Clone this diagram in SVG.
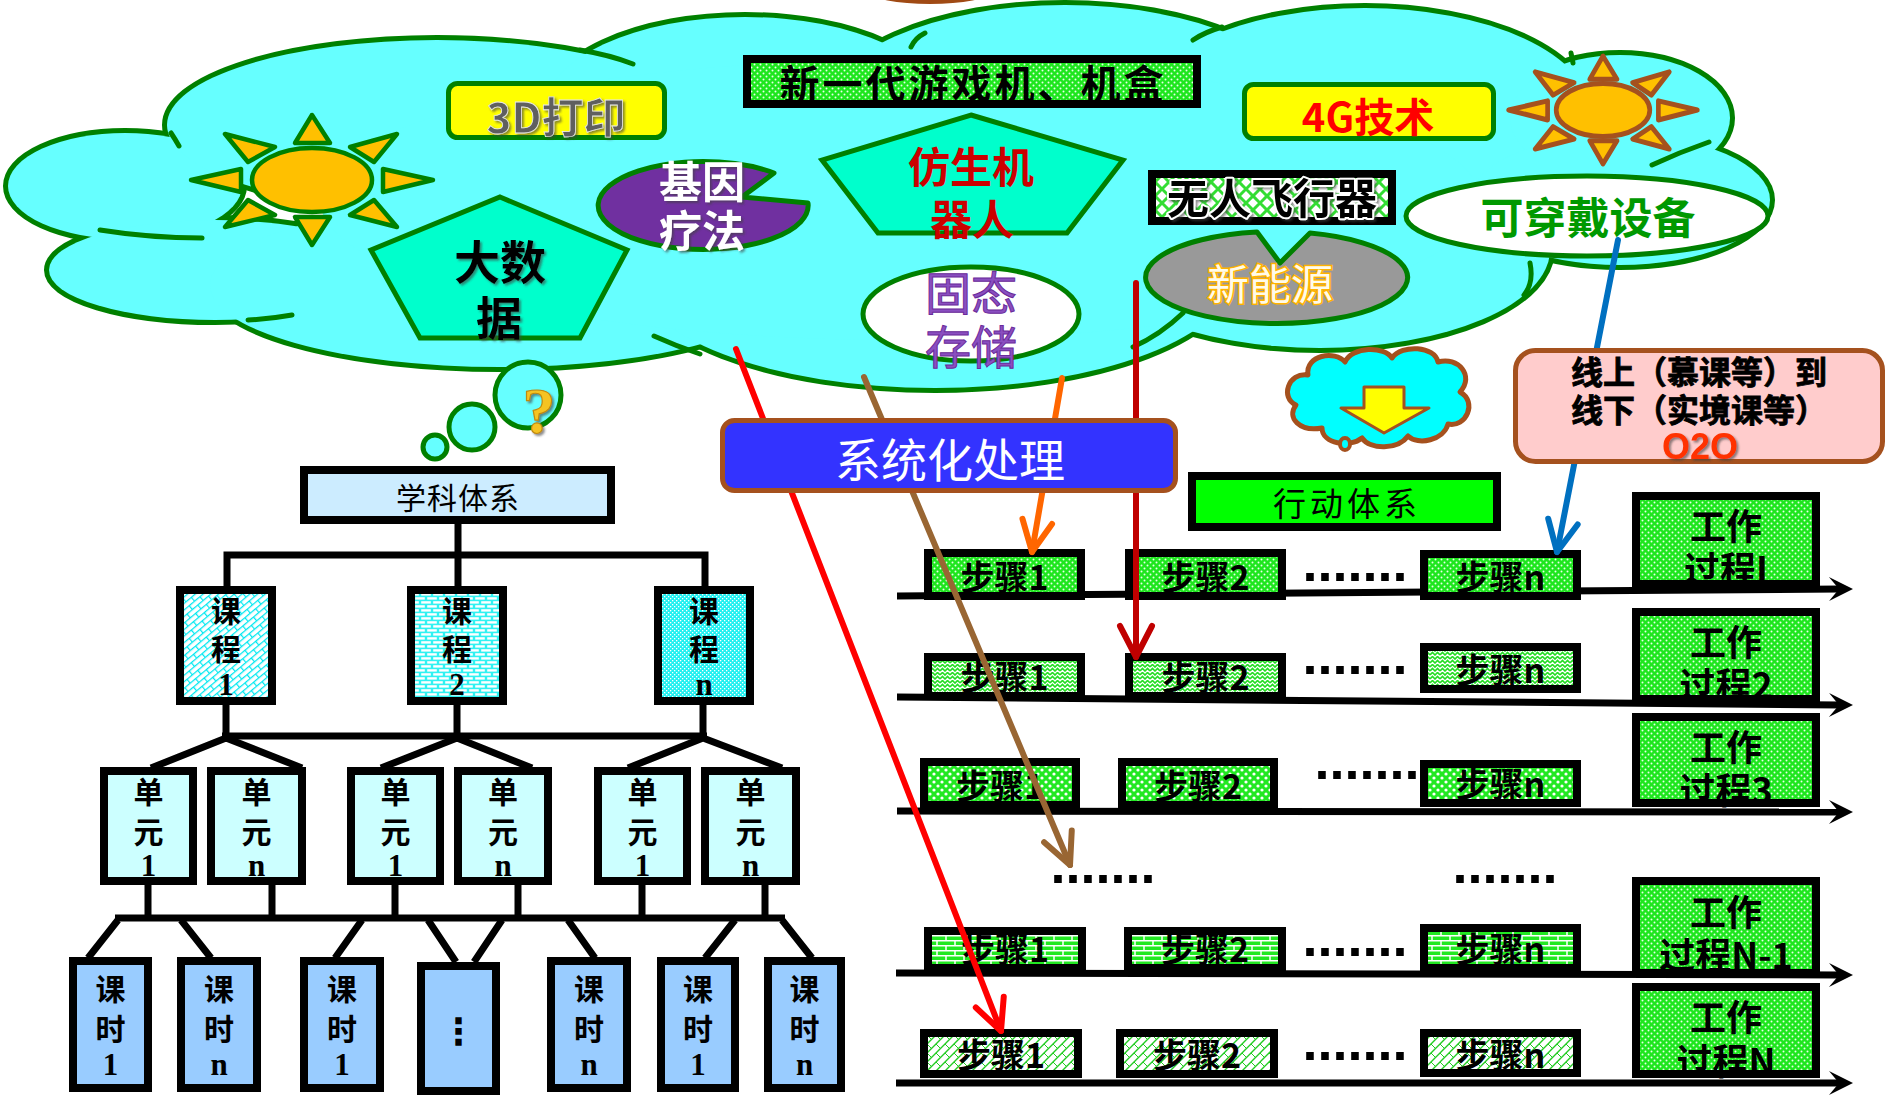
<svg xmlns="http://www.w3.org/2000/svg" width="1887" height="1096" viewBox="0 0 1887 1096">
<style>
  text { font-family: "Noto Sans CJK SC", "Noto Sans", sans-serif; }
  .b { font-weight: bold; }
  .c { text-anchor: middle; }
  .box { stroke: #000; stroke-width: 8; }
  .gline { fill: none; stroke: #008000; stroke-width: 5; stroke-linecap: round; }
  .pent { fill: #00FFCC; stroke: #008000; stroke-width: 5; }
  .tl { fill: none; stroke: #000; stroke-width: 7; }
  .step { font-size: 34px; font-weight: bold; text-anchor: middle; }
  .work { font-size: 36px; font-weight: bold; text-anchor: middle; }
  .tree { font-size: 30px; font-weight: bold; text-anchor: middle; }
  .dig { font-family: "Liberation Serif", serif; font-size: 31px; font-weight: bold; }
  .dots { font-family: "Liberation Sans", sans-serif; font-size: 54px; font-weight: bold; text-anchor: middle; }
  .conn { fill: none; stroke-width: 6; stroke-linecap: round; }
  .bubble { fill: #66FFFF; stroke: #008000; stroke-width: 5; }
</style>
<defs>
  <filter id="sh" x="-10%" y="-15%" width="130%" height="150%">
    <feDropShadow dx="2" dy="2" stdDeviation="1.3" flood-color="#404040" flood-opacity="0.6"/>
  </filter>
  <!-- fill patterns -->
  <pattern id="pGreenFine" width="6" height="6" patternUnits="userSpaceOnUse">
    <rect width="6" height="6" fill="#1EE61E"/>
    <circle cx="1.5" cy="1.5" r="1" fill="#E8FFE8"/>
    <circle cx="4.5" cy="4.5" r="1" fill="#E8FFE8"/>
  </pattern>
  <pattern id="pZig" width="10" height="8" patternUnits="userSpaceOnUse">
    <rect width="10" height="8" fill="#fff"/>
    <path d="M0,3 L2.5,0.5 L5,3 L7.5,0.5 L10,3 M0,7 L2.5,4.5 L5,7 L7.5,4.5 L10,7" fill="none" stroke="#22DD22" stroke-width="1.6"/>
  </pattern>
  <pattern id="pSpots" width="8" height="8" patternUnits="userSpaceOnUse">
    <rect width="8" height="8" fill="#22E822"/>
    <circle cx="2" cy="2" r="1.6" fill="#fff"/>
    <circle cx="6" cy="6" r="1.6" fill="#fff"/>
  </pattern>
  <pattern id="pBrick" width="18" height="10" patternUnits="userSpaceOnUse">
    <rect width="18" height="10" fill="#22E822"/>
    <path d="M0,0.75 H18 M0,5.75 H18 M1,0.75 V5.75 M10,5.75 V10" stroke="#fff" stroke-width="1.5"/>
  </pattern>
  <pattern id="pHatch" width="9" height="9" patternUnits="userSpaceOnUse">
    <rect width="9" height="9" fill="#fff"/>
    <path d="M0,9 L9,0 M-2,2 L2,-2 M7,11 L11,7" stroke="#22CC22" stroke-width="1.4"/>
    <path d="M0,0 L4.5,4.5" stroke="#22CC22" stroke-width="1"/>
  </pattern>
  <pattern id="pWeave" width="14" height="14" patternUnits="userSpaceOnUse">
    <rect width="14" height="14" fill="#fff"/>
    <path d="M0,7 L7,0 L14,7 L7,14 Z" fill="none" stroke="#33DD33" stroke-width="3"/>
  </pattern>
  <pattern id="pCyanDiag" width="14" height="10" patternUnits="userSpaceOnUse" patternTransform="rotate(-40)">
    <rect width="14" height="10" fill="#fff"/>
    <path d="M0,0.6 H14 M0,5.6 H14 M0.6,0.6 V5.6 M7.6,5.6 V10" stroke="#00E8F0" stroke-width="1.2"/>
  </pattern>
  <pattern id="pCyanBrick" width="12" height="8" patternUnits="userSpaceOnUse">
    <rect width="12" height="8" fill="#30F2F2"/>
    <rect x="1.2" y="1.2" width="9.6" height="2.4" fill="#fff"/>
    <rect x="7.2" y="5.2" width="9.6" height="2.4" fill="#fff"/>
    <rect x="-4.8" y="5.2" width="9.6" height="2.4" fill="#fff"/>
  </pattern>
  <pattern id="pCyanDots" width="4" height="4" patternUnits="userSpaceOnUse">
    <rect width="4" height="4" fill="#20F0F0"/>
    <rect x="0" y="0" width="1.3" height="1.3" fill="#fff"/>
    <rect x="2" y="2" width="1.3" height="1.3" fill="#fff"/>
  </pattern>
  <!-- cloud lobes -->
  <g id="lobes">
    <ellipse cx="125" cy="186" rx="117" ry="53"/>
    <ellipse cx="437" cy="125" rx="270" ry="85"/>
    <ellipse cx="215" cy="270" rx="166" ry="50"/>
    <ellipse cx="500" cy="285" rx="290" ry="82"/>
    <ellipse cx="745" cy="110" rx="200" ry="93"/>
    <ellipse cx="1065" cy="112" rx="240" ry="107"/>
    <ellipse cx="1365" cy="112" rx="225" ry="104"/>
    <ellipse cx="1620" cy="118" rx="110" ry="63"/>
    <ellipse cx="1620" cy="200" rx="150" ry="65"/>
    <ellipse cx="1320" cy="250" rx="230" ry="98"/>
    <ellipse cx="935" cy="272" rx="300" ry="116"/>
  </g>
  <!-- sun: body and eight rays around the origin -->
  <g id="sun">
    <polygon points="0,-65 -17,-37 18,-37"/>
    <polygon points="0,65 -17,37 18,37"/>
    <polygon points="-121,0 -71,-11 -71,12"/>
    <polygon points="121,0 71,-11 71,12"/>
    <polygon points="-87,-46 -37,-33 -64,-18"/>
    <polygon points="85,-46 38,-33 62,-18"/>
    <polygon points="-87,47 -64,20 -37,35"/>
    <polygon points="85,47 62,20 38,35"/>
    <ellipse rx="60" ry="32"/>
  </g>
  <marker id="mTime" markerUnits="userSpaceOnUse" viewBox="-30 -15 34 30" markerWidth="34" markerHeight="30" refX="-13" refY="0" orient="auto" overflow="visible">
    <path d="M-24,-12 L0,0 L-24,12 L-14,0 Z" fill="#000"/>
  </marker>
  <marker id="aRed" markerUnits="userSpaceOnUse" viewBox="-40 -20 44 40" markerWidth="44" markerHeight="40" refX="0" refY="0" orient="auto" overflow="visible">
    <path d="M-31,-15 L0,0 L-31,15" fill="none" stroke="#FF0000" stroke-width="6" stroke-linecap="round" stroke-linejoin="round"/>
  </marker>
  <marker id="aBrown" markerUnits="userSpaceOnUse" viewBox="-40 -20 44 40" markerWidth="44" markerHeight="40" refX="0" refY="0" orient="auto" overflow="visible">
    <path d="M-31,-15 L0,0 L-31,15" fill="none" stroke="#996633" stroke-width="6" stroke-linecap="round" stroke-linejoin="round"/>
  </marker>
  <marker id="aOrange" markerUnits="userSpaceOnUse" viewBox="-40 -20 44 40" markerWidth="44" markerHeight="40" refX="0" refY="0" orient="auto" overflow="visible">
    <path d="M-31,-15 L0,0 L-31,15" fill="none" stroke="#FF6600" stroke-width="6" stroke-linecap="round" stroke-linejoin="round"/>
  </marker>
  <marker id="aDark" markerUnits="userSpaceOnUse" viewBox="-40 -20 44 40" markerWidth="44" markerHeight="40" refX="0" refY="0" orient="auto" overflow="visible">
    <path d="M-31,-16 L0,0 L-31,16" fill="none" stroke="#C00000" stroke-width="6" stroke-linecap="round" stroke-linejoin="round"/>
  </marker>
  <marker id="aBlue" markerUnits="userSpaceOnUse" viewBox="-40 -20 44 40" markerWidth="44" markerHeight="40" refX="0" refY="0" orient="auto" overflow="visible">
    <path d="M-31,-15 L0,0 L-31,15" fill="none" stroke="#0070C0" stroke-width="6" stroke-linecap="round" stroke-linejoin="round"/>
  </marker>
</defs>

<rect width="1887" height="1096" fill="#fff"/>

<!-- partial shape peeking in at the top edge -->
<ellipse cx="930" cy="-8" rx="60" ry="12" fill="#A04A14"/>

<!-- big cloud -->
<g id="cloud">
  <use href="#lobes" fill="#66FFFF" stroke="#008000" stroke-width="10"/>
  <use href="#lobes" fill="#66FFFF" stroke="none"/>
  <ellipse cx="900" cy="200" rx="580" ry="140" fill="#66FFFF"/>
  <path class="gline" d="M171,133 Q175,139 179,146 M100,230 Q150,238 202,238 M248,320 Q270,319 292,315 M580,50 Q610,55 633,64 M654,336 Q676,346 700,354 M911,47 Q915,38 925,33 M1193,40 Q1205,32 1222,27 M1571,53 L1573,63 M1652,165 Q1680,152 1709,142 M1530,263 Q1534,283 1524,295 M1183,313 Q1160,335 1133,347"/>
</g>

<!-- items inside the cloud -->
<g id="sun-left"><use href="#sun" x="312" y="180" fill="#FFC000" stroke="#008000" stroke-width="4.5" stroke-linejoin="round"/></g>
<g id="sun-right"><use href="#sun" transform="translate(1603,110) scale(0.78,0.83)" fill="#FFC000" stroke="#A5511E" stroke-width="6" stroke-linejoin="round"/></g>

<g id="print3d">
  <rect x="448.5" y="83.5" width="216" height="54" rx="9" fill="#FFFF00" stroke="#008000" stroke-width="5"/>
  <text x="556" y="133" class="c b" font-size="42" fill="#5F5F5F" stroke="#E8E8E8" stroke-width="0.8" filter="url(#sh)">3D打印</text>
</g>

<g id="game-console">
  <rect x="747" y="59" width="450" height="45" fill="url(#pGreenFine)" class="box"/>
  <text x="973" y="99" class="c b" font-size="40" letter-spacing="3">新一代游戏机、机盒</text>
</g>

<g id="tech-4g">
  <rect x="1244.5" y="84.5" width="249" height="54" rx="9" fill="#FFFF00" stroke="#008000" stroke-width="5"/>
  <text x="1368" y="132" class="c b" font-size="40" fill="#FF0000">4G技术</text>
</g>

<g id="big-data">
  <polygon class="pent" points="500,197 627,250 580,338 420,338 371,250"/>
  <text class="c b" font-size="46" filter="url(#sh)"><tspan x="500" y="279">大数</tspan><tspan x="499" y="335">据</tspan></text>
</g>

<g id="gene-therapy">
  <path d="M774,173 L742,197 L808,203 A105 44 0 1 1 774,173 Z" fill="#7030A0" stroke="#008000" stroke-width="5" stroke-linejoin="round"/>
  <text class="c b" font-size="43" fill="#fff" filter="url(#sh)"><tspan x="702" y="198">基因</tspan><tspan x="702" y="247">疗法</tspan></text>
</g>

<g id="bionic-robot">
  <polygon class="pent" points="971,115 1123,160 1067,233 878,233 822,160"/>
  <text class="c b" font-size="42" fill="#CC0000"><tspan x="971" y="183">仿生机</tspan><tspan x="972" y="235">器人</tspan></text>
</g>

<g id="solid-storage">
  <ellipse cx="971" cy="314" rx="108" ry="47" fill="#fff" stroke="#008000" stroke-width="5"/>
  <text class="c" font-size="46" fill="#8A4FC0" stroke="#6A2A9A" stroke-width="1"><tspan x="971" y="310">固态</tspan><tspan x="971" y="364">存储</tspan></text>
</g>

<g id="drone">
  <rect x="1152" y="174" width="240" height="47" fill="url(#pWeave)" class="box"/>
  <text x="1272" y="214" class="c b" font-size="42" stroke="#fff" stroke-width="4" stroke-linejoin="round" paint-order="stroke" filter="url(#sh)">无人飞行器</text>
</g>

<g id="new-energy">
  <path d="M1257,232 L1280,263 L1310,233 A131 46 0 1 1 1257,232 Z" fill="#999999" stroke="#008000" stroke-width="5" stroke-linejoin="round"/>
  <text x="1270" y="300" class="c" font-size="42" fill="#FFFBEA" stroke="#FFB300" stroke-width="3" paint-order="stroke">新能源</text>
</g>

<g id="wearable">
  <ellipse cx="1587" cy="216" rx="181" ry="40" fill="#fff" stroke="#008000" stroke-width="5"/>
  <text x="1588" y="234" class="c b" font-size="43" fill="#009900">可穿戴设备</text>
</g>

<!-- thought bubbles under the cloud -->
<g id="thought">
  <circle class="bubble" cx="435" cy="447" r="12"/>
  <circle class="bubble" cx="472" cy="427" r="23"/>
  <circle class="bubble" cx="528" cy="395" r="33"/>
  <text x="539" y="433" class="c" font-weight="bold" font-size="66" fill="#F5C320" stroke="#C08A10" stroke-width="1.2" filter="url(#sh)" style="font-family:'Liberation Serif',serif">?</text>
</g>

<!-- small cloud with down arrow -->
<g id="down-cloud">
  <path d="M1296,405 C1280,398 1288,372 1308,375 C1305,355 1335,350 1345,362 C1352,346 1385,346 1392,358 C1402,344 1435,346 1438,362 C1458,356 1475,376 1460,392 C1478,402 1466,428 1448,424 C1444,440 1418,446 1408,436 C1398,450 1370,450 1362,438 C1350,448 1322,444 1322,428 C1300,432 1286,418 1296,405 Z" fill="#00FFFF" stroke="#A5511E" stroke-width="5" stroke-linejoin="round"/>
  <ellipse cx="1345" cy="444" rx="5" ry="6" fill="#00FFFF" stroke="#A5511E" stroke-width="4"/>
  <path d="M1364,387 H1404 V408 H1429 L1384,433 L1341,408 H1364 Z" fill="#FFFF00" stroke="#A5511E" stroke-width="3" stroke-linejoin="round"/>
</g>

<!-- subject system tree -->
<g id="tree-links" class="tl">
  <path d="M458,524 V590 M227,590 V555 H705 V590"/>
  <path d="M226,705 V736 M457,705 V736 M703,705 V736 M222,736 H707"/>
  <path d="M151,768 L226,738 L302,768 M381,768 L457,738 L532,768 M628,768 L703,738 L782,768"/>
  <path d="M148,885 V918 M272,885 V918 M395,885 V918 M518,885 V918 M642,885 V918 M765,885 V918 M115,918 H785"/>
  <path d="M118,920 L88,958 M181,920 L211,958 M362,920 L335,958 M428,920 L456,962 M502,920 L474,962 M568,920 L595,958 M735,920 L705,958 M782,920 L812,958"/>
</g>

<g id="subject-system">
  <rect x="304" y="470" width="307" height="50" fill="#CCECFF" class="box"/>
  <text x="458" y="509" class="c" font-size="30" letter-spacing="1">学科体系</text>
</g>

<g id="course-1">
  <rect x="180" y="590" width="92" height="111" fill="url(#pCyanDiag)" class="box"/>
  <text class="tree"><tspan x="226" y="622">课</tspan><tspan x="226" y="660">程</tspan><tspan x="226" y="695" class="dig">1</tspan></text>
</g>
<g id="course-2">
  <rect x="411" y="590" width="92" height="111" fill="url(#pCyanBrick)" class="box"/>
  <text class="tree"><tspan x="457" y="622">课</tspan><tspan x="457" y="660">程</tspan><tspan x="457" y="695" class="dig">2</tspan></text>
</g>
<g id="course-n">
  <rect x="658" y="590" width="92" height="111" fill="url(#pCyanDots)" class="box"/>
  <text class="tree"><tspan x="704" y="622">课</tspan><tspan x="704" y="660">程</tspan><tspan x="704" y="695" class="dig">n</tspan></text>
</g>

<g id="unit-a1">
  <rect x="104" y="771" width="89" height="110" fill="#CCFFFF" class="box"/>
  <text class="tree"><tspan x="148.5" y="803">单</tspan><tspan x="148.5" y="843">元</tspan><tspan x="148.5" y="876" class="dig">1</tspan></text>
</g>
<g id="unit-an">
  <rect x="211" y="771" width="91" height="110" fill="#CCFFFF" class="box"/>
  <text class="tree"><tspan x="256.5" y="803">单</tspan><tspan x="256.5" y="843">元</tspan><tspan x="256.5" y="876" class="dig">n</tspan></text>
</g>
<g id="unit-b1">
  <rect x="351" y="771" width="89" height="110" fill="#CCFFFF" class="box"/>
  <text class="tree"><tspan x="395.5" y="803">单</tspan><tspan x="395.5" y="843">元</tspan><tspan x="395.5" y="876" class="dig">1</tspan></text>
</g>
<g id="unit-bn">
  <rect x="458" y="771" width="90" height="110" fill="#CCFFFF" class="box"/>
  <text class="tree"><tspan x="503" y="803">单</tspan><tspan x="503" y="843">元</tspan><tspan x="503" y="876" class="dig">n</tspan></text>
</g>
<g id="unit-c1">
  <rect x="598" y="771" width="89" height="110" fill="#CCFFFF" class="box"/>
  <text class="tree"><tspan x="642.5" y="803">单</tspan><tspan x="642.5" y="843">元</tspan><tspan x="642.5" y="876" class="dig">1</tspan></text>
</g>
<g id="unit-cn">
  <rect x="705" y="771" width="91" height="110" fill="#CCFFFF" class="box"/>
  <text class="tree"><tspan x="750.5" y="803">单</tspan><tspan x="750.5" y="843">元</tspan><tspan x="750.5" y="876" class="dig">n</tspan></text>
</g>

<g id="lesson-1a">
  <rect x="73" y="961" width="75" height="127" fill="#99CCFF" class="box"/>
  <text class="tree"><tspan x="110.5" y="1000">课</tspan><tspan x="110.5" y="1040">时</tspan><tspan x="110.5" y="1075" class="dig">1</tspan></text>
</g>
<g id="lesson-na">
  <rect x="181" y="961" width="76" height="127" fill="#99CCFF" class="box"/>
  <text class="tree"><tspan x="219" y="1000">课</tspan><tspan x="219" y="1040">时</tspan><tspan x="219" y="1075" class="dig">n</tspan></text>
</g>
<g id="lesson-1b">
  <rect x="304" y="961" width="76" height="127" fill="#99CCFF" class="box"/>
  <text class="tree"><tspan x="342" y="1000">课</tspan><tspan x="342" y="1040">时</tspan><tspan x="342" y="1075" class="dig">1</tspan></text>
</g>
<g id="lesson-more">
  <rect x="421" y="966" width="75" height="125" fill="#99CCFF" class="box"/>
  <text x="458.5" y="1044" class="c b" font-size="36" style="font-family:'DejaVu Sans',sans-serif">⋮</text>
</g>
<g id="lesson-nb">
  <rect x="551" y="961" width="76" height="127" fill="#99CCFF" class="box"/>
  <text class="tree"><tspan x="589" y="1000">课</tspan><tspan x="589" y="1040">时</tspan><tspan x="589" y="1075" class="dig">n</tspan></text>
</g>
<g id="lesson-1c">
  <rect x="661" y="961" width="74" height="127" fill="#99CCFF" class="box"/>
  <text class="tree"><tspan x="698" y="1000">课</tspan><tspan x="698" y="1040">时</tspan><tspan x="698" y="1075" class="dig">1</tspan></text>
</g>
<g id="lesson-nc">
  <rect x="768" y="961" width="73" height="127" fill="#99CCFF" class="box"/>
  <text class="tree"><tspan x="804.5" y="1000">课</tspan><tspan x="804.5" y="1040">时</tspan><tspan x="804.5" y="1075" class="dig">n</tspan></text>
</g>

<!-- action system -->
<g id="action-system">
  <rect x="1192" y="476" width="305" height="51" fill="#00FF00" class="box"/>
  <text x="1347" y="516" class="c" font-size="33" letter-spacing="4">行动体系</text>
</g>

<g id="timelines" class="tl" marker-end="url(#mTime)">
  <path d="M897,596 L1840,589"/>
  <path d="M897,697 L1840,705"/>
  <path d="M897,811 L1840,812"/>
  <path d="M896,973 L1840,975"/>
  <path d="M896,1083 L1840,1083"/>
</g>

<g id="row-1">
  <rect x="928" y="553" width="153" height="43" fill="url(#pGreenFine)" class="box"/>
  <text x="1004.5" y="590" class="step">步骤1</text>
  <rect x="1129" y="553" width="153" height="43" fill="url(#pGreenFine)" class="box"/>
  <text x="1205.5" y="590" class="step">步骤2</text>
  <text x="1355" y="581" class="dots">.......</text>
  <rect x="1424" y="554" width="153" height="42" fill="url(#pGreenFine)" class="box"/>
  <text x="1500.5" y="590" class="step">步骤n</text>
</g>
<g id="process-1">
  <rect x="1636" y="496" width="180" height="88" fill="url(#pGreenFine)" class="box"/>
  <text class="work"><tspan x="1726" y="540">工作</tspan><tspan x="1726" y="583">过程I</tspan></text>
</g>

<g id="row-2">
  <rect x="928" y="657" width="153" height="39" fill="url(#pZig)" class="box"/>
  <text x="1004.5" y="690" class="step">步骤1</text>
  <rect x="1129" y="657" width="153" height="39" fill="url(#pZig)" class="box"/>
  <text x="1205.5" y="690" class="step">步骤2</text>
  <text x="1355" y="674" class="dots">.......</text>
  <rect x="1424" y="647" width="153" height="42" fill="url(#pZig)" class="box"/>
  <text x="1500.5" y="683" class="step">步骤n</text>
</g>
<g id="process-2">
  <rect x="1636" y="612" width="180" height="87" fill="url(#pGreenFine)" class="box"/>
  <text class="work"><tspan x="1726" y="656">工作</tspan><tspan x="1726" y="699">过程2</tspan></text>
</g>

<g id="row-3">
  <rect x="924" y="762" width="152" height="43" fill="url(#pSpots)" class="box"/>
  <text x="1000" y="799" class="step">步骤1</text>
  <rect x="1122" y="762" width="152" height="43" fill="url(#pSpots)" class="box"/>
  <text x="1198" y="799" class="step">步骤2</text>
  <text x="1367" y="779" class="dots">.......</text>
  <rect x="1424" y="764" width="153" height="39" fill="url(#pSpots)" class="box"/>
  <text x="1500.5" y="797" class="step">步骤n</text>
</g>
<g id="process-3">
  <rect x="1636" y="717" width="180" height="86" fill="url(#pGreenFine)" class="box"/>
  <text class="work"><tspan x="1726" y="761">工作</tspan><tspan x="1726" y="804">过程3</tspan></text>
</g>

<g id="row-gap">
  <text x="1103" y="883" class="dots">.......</text>
  <text x="1505" y="883" class="dots">.......</text>
</g>

<g id="row-n-1">
  <rect x="928" y="931" width="154" height="37" fill="url(#pBrick)" class="box"/>
  <text x="1005" y="962" class="step">步骤1</text>
  <rect x="1128" y="931" width="154" height="37" fill="url(#pBrick)" class="box"/>
  <text x="1205" y="962" class="step">步骤2</text>
  <text x="1355" y="956" class="dots">.......</text>
  <rect x="1424" y="928" width="153" height="40" fill="url(#pBrick)" class="box"/>
  <text x="1500.5" y="962" class="step">步骤n</text>
</g>
<g id="process-n-1">
  <rect x="1636" y="881" width="180" height="92" fill="url(#pGreenFine)" class="box"/>
  <text class="work"><tspan x="1726" y="926">工作</tspan><tspan x="1726" y="969">过程N-1</tspan></text>
</g>

<g id="row-n">
  <rect x="924" y="1033" width="154" height="41" fill="url(#pHatch)" class="box"/>
  <text x="1001" y="1068" class="step">步骤1</text>
  <rect x="1120" y="1033" width="154" height="41" fill="url(#pHatch)" class="box"/>
  <text x="1197" y="1068" class="step">步骤2</text>
  <text x="1355" y="1060" class="dots">.......</text>
  <rect x="1424" y="1033" width="153" height="40" fill="url(#pHatch)" class="box"/>
  <text x="1500.5" y="1068" class="step">步骤n</text>
</g>
<g id="process-n">
  <rect x="1636" y="987" width="180" height="87" fill="url(#pGreenFine)" class="box"/>
  <text class="work"><tspan x="1726" y="1031">工作</tspan><tspan x="1726" y="1075">过程N</tspan></text>
</g>

<!-- arrows from the cloud down to the steps -->
<g id="connectors">
  <path class="conn" stroke="#FF0000" d="M736,349 L1001,1031" marker-end="url(#aRed)"/>
  <path class="conn" stroke="#996633" d="M864,377 L1070,865" marker-end="url(#aBrown)"/>
  <path class="conn" stroke="#FF6600" d="M1062,378 L1032,552" marker-end="url(#aOrange)"/>
  <path class="conn" stroke="#C00000" d="M1136,283 L1136,657" marker-end="url(#aDark)"/>
  <path class="conn" stroke="#0070C0" d="M1618,240 L1557,552" marker-end="url(#aBlue)"/>
</g>

<g id="systematize">
  <rect x="722.5" y="420.5" width="453" height="70" rx="12" fill="#3333FF" stroke="#A5511E" stroke-width="5"/>
  <text x="950" y="477" class="c" font-size="46" fill="#fff">系统化处理</text>
</g>

<g id="o2o">
  <rect x="1515.5" y="350.5" width="367" height="111" rx="20" fill="#FFCCCC" stroke="#A5511E" stroke-width="5"/>
  <text class="b" font-size="32" stroke="#000" stroke-width="0.8"><tspan x="1571" y="384">线上（慕课等）到</tspan><tspan x="1571" y="422">线下（实境课等）</tspan></text>
  <text x="1700" y="459" class="c b" font-size="36" fill="#FF3300" filter="url(#sh)" style="font-family:'Liberation Sans',sans-serif">O2O</text>
</g>
</svg>
